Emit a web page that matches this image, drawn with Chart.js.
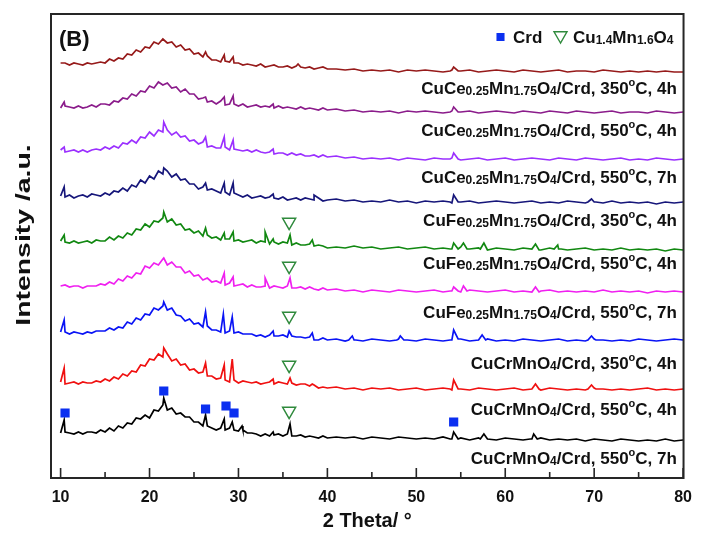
<!DOCTYPE html>
<html>
<head>
<meta charset="utf-8">
<title>XRD patterns (B)</title>
<script src="https://cdn.jsdelivr.net/npm/chart.js@4.4.1/dist/chart.umd.min.js"></script>
<style>
  html, body { margin: 0; padding: 0; background: #fff; }
</style>
</head>
<body>
<canvas id="xrdChart" width="702" height="535"></canvas>
<script>
// 2 theta grid shared by every pattern (0.5 deg up to 40, then 1 deg)
const twoTheta = [
  10, 10.5, 11, 11.5, 12, 12.5, 13, 13.5, 14, 14.5, 15, 15.5, 16, 16.5, 17, 17.5, 18, 18.5, 19, 19.5,
  20, 20.5, 21, 21.5, 22, 22.5, 23, 23.5, 24, 24.5, 25, 25.5, 26, 26.5, 27, 27.5, 28, 28.5, 29, 29.5,
  30, 30.5, 31, 31.5, 32, 32.5, 33, 33.5, 34, 34.5, 35, 35.5, 36, 36.5, 37, 37.5, 38, 38.5, 39, 39.5, 40,
  41, 42, 43, 44, 45, 46, 47, 48, 49, 50, 51, 52, 53, 54, 55, 56, 57, 58, 59, 60,
  61, 62, 63, 64, 65, 66, 67, 68, 69, 70, 71, 72, 73, 74, 75, 76, 77, 78, 79, 80
];

// stacked intensities (a.u.), top pattern first
const cuCe350h4 = [
  415,415,413,415,414,413,415,414,415,416, 415,419,417,420,419,424,423,428,426,431,
  430,436,434,439,435,436,431,433,428,429, 424,425,421,422,418,418,416,417,416,415,
  415,413,414,413,412,414,411,412,413,411, 411,412,410,412,411,410,411,409,410,411, 409,
  409,408,409,407,408,407,408,406,408,407, 408,407,406,408,407,408,406,407,408,407,
  406,408,407,406,407,408,406,407,407,406, 408,407,406,407,406,407,406,407,406,406
];
const cuCe550h4 = [
  370,372,371,370,372,370,371,373,371,374, 374,373,377,376,380,379,384,382,387,386,
  392,390,396,393,395,390,391,386,389,384, 384,379,380,376,377,374,377,373,374,374,
  372,374,371,372,373,371,372,371,370,372, 370,371,370,369,371,369,370,369,368,370, 368,
  369,367,368,366,367,366,367,365,367,366, 367,366,365,367,366,367,365,366,367,366,
  365,367,366,365,367,366,365,367,366,365, 366,367,365,366,366,365,367,366,365,366
];
const cuCe550h7 = [
  328,326,327,328,326,328,326,328,329,328, 331,329,332,330,335,334,338,335,341,340,
  346,342,348,346,348,343,346,341,342,337, 338,334,336,331,332,330,330,331,328,329,
  328,327,328,326,328,326,325,326,324,325, 325,323,325,323,324,322,322,323,321,323, 321,
  322,320,321,319,320,319,320,318,320,319, 318,320,319,320,318,319,320,318,319,320,
  318,319,320,319,318,320,319,318,320,319, 318,319,320,318,319,318,320,319,318,319
];
const cuFe350h4 = [
  282,281,283,280,282,283,281,284,283,282, 285,283,287,286,290,287,293,291,298,295,
  302,299,307,304,307,301,304,298,299,294, 294,289,291,288,289,287,285,286,283,285,
  283,281,283,280,281,282,280,281,280,279, 281,278,279,280,278,280,279,278,280,277, 278,
  279,277,278,276,277,276,278,276,277,275, 277,276,277,275,276,277,275,276,277,276,
  275,276,277,275,276,275,277,276,275,276, 275,277,275,276,275,276,274,276,275,276
];
const cuFe550h4 = [
  237,236,235,237,235,236,237,235,238,237, 237,241,238,242,240,245,243,249,248,254,
  251,257,256,260,256,259,253,254,248,249, 245,247,242,243,240,241,238,239,239,237,
  238,236,237,238,235,237,236,234,236,234, 236,235,233,235,233,233,234,232,233,232, 230,
  231,230,232,230,231,229,230,231,229,230, 231,229,230,229,231,229,230,228,230,229,
  228,230,229,228,230,229,228,229,230,228, 229,228,230,228,229,228,229,227,229,228
];
const cuFe550h7 = [
  192,193,191,192,192,190,192,192,192,194, 193,196,194,199,197,202,200,205,204,212,
  210,215,213,219,213,216,211,211,205,207, 202,203,198,200,196,197,195,193,195,192,
  193,194,191,193,191,191,192,190,192,191, 190,192,190,190,191,189,191,189,188,190, 188,
  189,187,188,186,188,187,186,188,187,186, 187,188,186,187,186,188,187,186,187,188,
  186,187,186,187,188,186,187,186,187,186, 188,186,187,186,187,185,187,186,187,186
];
const cuCr350h4 = [
  146,146,144,146,145,144,146,145,147,147, 147,150,148,151,150,156,154,160,158,164,
  163,170,168,172,168,170,163,162,157,159, 154,155,151,152,148,148,146,145,147,145,
  146,144,144,144,142,143,141,143,142,142, 143,141,142,141,141,140,141,138,138,140, 138,
  139,137,138,137,139,138,137,139,138,137, 139,138,137,138,139,137,138,139,137,138,
  137,139,138,137,138,139,137,138,137,139, 138,137,138,137,139,138,137,138,139,138
];
const cuCr550h4 = [
  96,94,95,96,94,96,95,95,97,96, 99,97,101,99,104,102,107,106,113,112,
  119,118,124,121,124,117,119,113,114,108, 109,105,106,102,102,99,100,98,96,98,
  95,97,96,95,96,94,95,96,94,96, 95,94,95,93,94,94,92,93,90,91, 90,
  91,89,90,88,90,89,90,88,89,90, 88,89,90,88,89,88,90,89,88,89,
  90,88,89,88,90,89,88,89,88,90, 89,88,89,88,89,90,88,89,88,89
];
const cuCr550h7 = [
  45,46,45,44,46,44,46,46,45,48, 46,50,47,52,50,55,54,60,59,63,
  60,68,67,73,68,70,64,65,61,61, 56,56,52,52,50,48,50,48,50,48,
  47,48,45,45,44,42,44,42,43,44, 42,44,42,42,43,41,42,41,40,42, 40,
  41,40,41,39,41,40,39,41,40,39, 40,39,41,39,40,38,40,39,38,40,
  39,38,39,40,38,39,38,39,37,39, 38,37,39,38,37,38,37,39,37,38
];

// reflections between grid points: [2theta, intensity]; broad high-angle ones carry their shoulders
const cuCe350h4Peaks = [[26.3, 426], [28.4, 423], [29.4, 421], [36.7, 414], [53.8, 407], [54.2, 411], [54.7, 407]];
const cuCe550h4Peaks = [[10.4, 376], [26.3, 381], [28.4, 381], [29.4, 382], [33.9, 374], [53.8, 366], [54.2, 371], [54.7, 366]];
const cuCe550h7Peaks = [[10.4, 331], [21.6, 356], [26.3, 341], [28.4, 341], [29.4, 338], [33.9, 329], [53.8, 319], [54.2, 325], [54.7, 319]];
const cuFe350h4Peaks = [[10.4, 291], [21.6, 310], [26.3, 295], [28.4, 295], [29.4, 295], [33.9, 284], [38.5, 283],
  [53.8, 276], [54.2, 283], [54.7, 276], [69.3, 276], [69.7, 279], [70.2, 276]];
const cuFe550h4Peaks = [[10.4, 243], [21.6, 266], [26.3, 250], [28.4, 245], [29.4, 246], [33.0, 246], [33.9, 239], [35.8, 243], [38.3, 238],
  [53.8, 229], [54.2, 235], [54.7, 229], [55.3, 235], [55.7, 229], [57.2, 229], [57.6, 235], [63.4, 234], [63.8, 228], [65.5, 229], [65.9, 233], [66.3, 229]];
const cuFe550h7Peaks = [[21.6, 220], [28.4, 205], [29.4, 201], [33.0, 200], [35.8, 200],
  [53.8, 187], [54.2, 191], [54.7, 187], [55.3, 192], [55.7, 187], [63.4, 191], [63.8, 186]];
const cuCr350h4Peaks = [[10.4, 158], [21.6, 176], [26.3, 166], [28.3, 164], [29.3, 161], [33.9, 147], [35.7, 147], [38.3, 145],
  [42.4, 138], [42.8, 142], [43.2, 138], [47.8, 138], [48.2, 142], [48.6, 138], [53.8, 138], [54.2, 148], [54.7, 139],
  [57.4, 143], [57.8, 138], [69.3, 138], [69.7, 142], [70.2, 138]];
const cuCr550h4Peaks = [[10.4, 110], [21.6, 130], [26.3, 115], [28.4, 113], [29.3, 119], [33.9, 99], [35.8, 100], [38.3, 94],
  [53.8, 89], [54.2, 98], [54.7, 89], [63.4, 94], [63.8, 89], [69.3, 89], [69.7, 93], [70.2, 89]];
const cuCr550h7Peaks = [[10.4, 58], [21.6, 80], [26.3, 63], [28.4, 59], [29.3, 56], [30.4, 52], [33.9, 46], [35.8, 54],
  [53.8, 39], [54.2, 46], [54.7, 39], [57.2, 39], [57.6, 44], [62.8, 39], [63.2, 44], [63.6, 39]];

const sampleNames = [
  'CuCe_{0.25}Mn_{1.75}O_{4}/Crd, 350^{o}C, 4h',
  'CuCe_{0.25}Mn_{1.75}O_{4}/Crd, 550^{o}C, 4h',
  'CuCe_{0.25}Mn_{1.75}O_{4}/Crd, 550^{o}C, 7h',
  'CuFe_{0.25}Mn_{1.75}O_{4}/Crd, 350^{o}C, 4h',
  'CuFe_{0.25}Mn_{1.75}O_{4}/Crd, 550^{o}C, 4h',
  'CuFe_{0.25}Mn_{1.75}O_{4}/Crd, 550^{o}C, 7h',
  'CuCrMnO_{4}/Crd, 350^{o}C, 4h',
  'CuCrMnO_{4}/Crd, 550^{o}C, 4h',
  'CuCrMnO_{4}/Crd, 550^{o}C, 7h'
];
const sampleValues = [cuCe350h4, cuCe550h4, cuCe550h7, cuFe350h4, cuFe550h4, cuFe550h7, cuCr350h4, cuCr550h4, cuCr550h7];
const samplePeaks = [cuCe350h4Peaks, cuCe550h4Peaks, cuCe550h7Peaks, cuFe350h4Peaks, cuFe550h4Peaks, cuFe550h7Peaks, cuCr350h4Peaks, cuCr550h4Peaks, cuCr550h7Peaks];
const sampleColors = ['#961a1a', '#8b1c8b', '#9b30ff', '#16167a', '#118811', '#f020f0', '#0a14f5', '#f01010', '#000000'];
// label baseline distance below each pattern's tail, px
const labelGap = [23, 24, 24, 23.5, 19.5, 26.5, 29, 26, 24];

// phase markers: cordierite (squares) and Cu1.4Mn1.6O4 spinel (open triangles)
const crdMarks = [[10.5, 65], [21.6, 87], [26.3, 69], [28.6, 72], [29.5, 65], [54.2, 56]];
const spinelMarks = [[35.7, 256], [35.7, 212], [35.7, 162], [35.7, 113], [35.7, 67]];

const xTicks = [10, 20, 30, 40, 50, 60, 70, 80];
const xMinorTicks = [15, 25, 35, 45, 55, 65, 75];

const FONT = '"Liberation Sans", Arial, sans-serif';
const markBlue = '#0b2ff0';
const markGreen = '#2f8a3c';

function toPoints(values, peaks) {
  const pts = twoTheta.map((x, i) => ({ x: x, y: values[i] }));
  peaks.forEach(p => pts.push({ x: p[0], y: p[1] }));
  return pts.sort((a, b) => a.x - b.x);
}

// splits "Cu_{1.4}Mn^{o}" into normal / sub / sup runs
function parseRich(str) {
  const parts = str.split(/(_\{[^}]*\}|\^\{[^}]*\})/).filter(s => s.length);
  return parts.map(s => {
    if (s.startsWith('_{')) return { text: s.slice(2, -1), kind: 'sub' };
    if (s.startsWith('^{')) return { text: s.slice(2, -1), kind: 'sup' };
    return { text: s, kind: 'n' };
  });
}

function drawRich(ctx, str, x, baseline, align) {
  const fonts = {
    n: 'bold 17px ' + FONT,
    sub: 'bold 12px ' + FONT,
    sup: 'bold 11px ' + FONT
  };
  const shift = { n: 0, sub: 1, sup: -8 };
  const runs = parseRich(str);
  let total = 0;
  runs.forEach(r => {
    ctx.font = fonts[r.kind];
    r.w = ctx.measureText(r.text).width;
    total += r.w;
  });
  let cx = align === 'right' ? x - total : x;
  ctx.textAlign = 'left';
  ctx.textBaseline = 'alphabetic';
  runs.forEach(r => {
    ctx.font = fonts[r.kind];
    ctx.fillText(r.text, cx, baseline + shift[r.kind]);
    cx += r.w;
  });
}

const frameAndLabels = {
  id: 'frameAndLabels',
  afterDraw(chart) {
    const { ctx, chartArea: a, scales } = chart;
    const xs = scales.x, ys = scales.y;
    ctx.save();

    // box and inward ticks
    ctx.strokeStyle = '#262626';
    ctx.lineWidth = 2;
    ctx.strokeRect(a.left, a.top, a.right - a.left, a.bottom - a.top);
    ctx.beginPath();
    ctx.lineWidth = 1.6;
    xTicks.forEach(v => {
      const px = xs.getPixelForValue(v);
      ctx.moveTo(px, a.bottom);
      ctx.lineTo(px, a.bottom - 10);
    });
    xMinorTicks.forEach(v => {
      const px = xs.getPixelForValue(v);
      ctx.moveTo(px, a.bottom);
      ctx.lineTo(px, a.bottom - 6);
    });
    ctx.stroke();

    ctx.fillStyle = '#111';
    ctx.font = 'bold 22px ' + FONT;
    ctx.textAlign = 'left';
    ctx.textBaseline = 'alphabetic';
    ctx.fillText('(B)', a.left + 8, a.top + 32);

    // y title, drawn tall and narrow
    ctx.save();
    ctx.translate(24, (a.top + a.bottom) / 2 - 11);
    ctx.rotate(-Math.PI / 2);
    ctx.scale(1.42, 1);
    ctx.font = 'bold 20px ' + FONT;
    ctx.textAlign = 'center';
    ctx.textBaseline = 'middle';
    ctx.fillText('Intensity /a.u.', 0, 0);
    ctx.restore();

    // sample names under the tail of each pattern
    const labelX = xs.getPixelForValue(79.3);
    sampleValues.forEach((vals, i) => {
      const tail = vals.slice(-11);
      const mean = tail.reduce((s, v) => s + v, 0) / tail.length;
      const base = ys.getPixelForValue(mean) + labelGap[i];
      drawRich(ctx, sampleNames[i], labelX, base, 'right');
    });

    // phase key
    const keyY = a.top + 23;
    ctx.fillStyle = markBlue;
    Chart.helpers.drawPoint(ctx, { pointStyle: 'rect', radius: 5.7, rotation: 0, borderWidth: 0 }, 500.5, keyY);
    ctx.fillStyle = 'rgba(0,0,0,0)';
    ctx.strokeStyle = markGreen;
    ctx.lineWidth = 1.4;
    Chart.helpers.drawPoint(ctx, { pointStyle: 'triangle', radius: 7.5, rotation: 180, borderWidth: 1.4 }, 560.5, keyY - 1.5);
    ctx.fillStyle = '#111';
    drawRich(ctx, 'Crd', 513, keyY + 6, 'left');
    drawRich(ctx, 'Cu_{1.4}Mn_{1.6}O_{4}', 573, keyY + 6, 'left');

    ctx.restore();
  }
};

const datasets = sampleValues.map((vals, i) => ({
  label: sampleNames[i],
  data: toPoints(vals, samplePeaks[i]),
  borderColor: sampleColors[i],
  borderWidth: 1.7,
  pointRadius: 0,
  tension: 0,
  fill: false,
  order: 1
}));

datasets.push({
  label: 'Crd',
  type: 'scatter',
  data: crdMarks.map(p => ({ x: p[0], y: p[1] })),
  pointStyle: 'rect',
  pointRadius: 6.5,
  backgroundColor: markBlue,
  borderWidth: 0,
  order: 0
});
datasets.push({
  label: 'Cu1.4Mn1.6O4',
  type: 'scatter',
  data: spinelMarks.map(p => ({ x: p[0], y: p[1] })),
  pointStyle: 'triangle',
  rotation: 180,
  pointRadius: 7.5,
  backgroundColor: 'rgba(255,255,255,0)',
  borderColor: markGreen,
  borderWidth: 1.5,
  order: 0
});

Chart.defaults.font.family = FONT;
Chart.defaults.color = '#111';

new Chart(document.getElementById('xrdChart').getContext('2d'), {
  type: 'line',
  data: { datasets: datasets },
  options: {
    responsive: false,
    animation: false,
    devicePixelRatio: 1,
    layout: { padding: { top: 14, right: 12, bottom: 0, left: 0 } },
    plugins: { legend: { display: false }, tooltip: { enabled: false } },
    scales: {
      x: {
        type: 'linear',
        min: 8.92,
        max: 80.05,
        grid: { display: false, drawTicks: false },
        border: { display: false },
        afterBuildTicks: s => { s.ticks = xTicks.map(v => ({ value: v })); },
        afterFit: s => { s.height = 57; },
        ticks: { font: { size: 16, weight: 'bold' }, padding: 10, maxRotation: 0 },
        title: { display: true, text: '2 Theta/ °', font: { size: 20, weight: 'bold' }, padding: { top: 0, bottom: 2 } }
      },
      y: {
        type: 'linear',
        min: 0,
        max: 464,
        grid: { display: false, drawTicks: false },
        border: { display: false },
        ticks: { display: false },
        afterFit: s => { s.width = 51; }
      }
    }
  },
  plugins: [frameAndLabels]
});
</script>
</body>
</html>
